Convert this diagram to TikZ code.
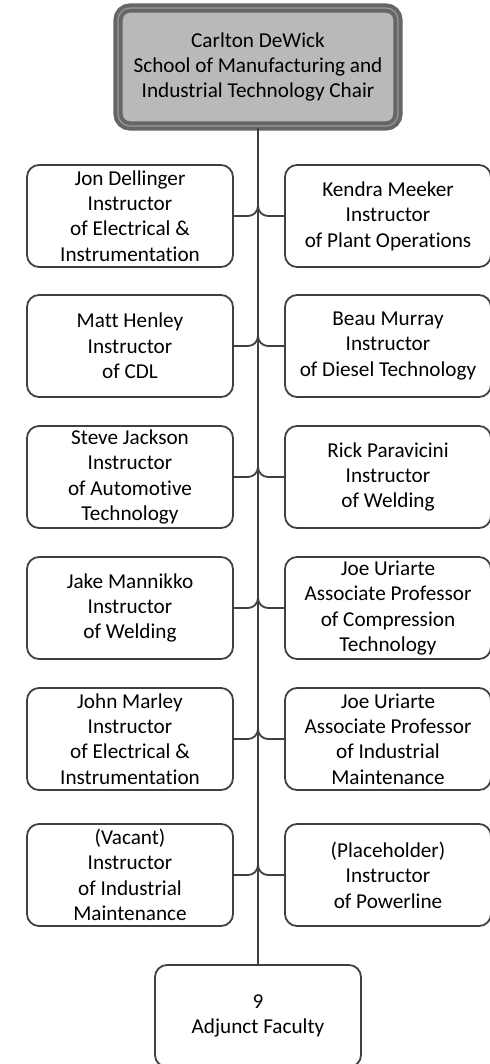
\documentclass[tikz,border=0pt]{standalone}
\usepackage{fontspec}
\setmainfont[Ligatures=NoCommon]{Carlito}
\usepackage{tikz}
\usetikzlibrary{positioning}
\usetikzlibrary{calc}
\tikzset{staffbox/.style = {draw=black!75, line width=0.9pt, rounded corners=6pt,
                            minimum width=103pt, minimum height=51pt,
                            align=center, inner sep=1pt,
                            font=\fontsize{10.6}{12.7}\selectfont},
         chairbox/.style = {staffbox, fill=gray!55, draw=black!60, line width=2pt,
                            double=gray!80, double distance=0.6pt,
                            minimum width=140pt, minimum height=59pt},
         link/.style = {draw=black!75, line width=0.9pt, rounded corners=5pt}}

\begin{document}
\begin{tikzpicture}[x=0.5pt, y=-0.5pt]
    \useasboundingbox (0, 0) rectangle (490, 1064);

    \node [chairbox] (chair) at (258, 67)
      {Carlton DeWick\\School of Manufacturing and\\Industrial Technology Chair};

    \node [staffbox] (l1) at (130, 216) {Jon Dellinger\\Instructor\\of Electrical \&\\Instrumentation};
    \node [staffbox] (r1) at (388, 216) {Kendra Meeker\\Instructor\\of Plant Operations};
    \node [staffbox] (l2) at (130, 346) {Matt Henley\\Instructor\\of CDL};
    \node [staffbox] (r2) at (388, 346) {Beau Murray\\Instructor\\of Diesel Technology};
    \node [staffbox] (l3) at (130, 477) {Steve Jackson\\Instructor\\of Automotive\\Technology};
    \node [staffbox] (r3) at (388, 477) {Rick Paravicini\\Instructor\\of Welding};
    \node [staffbox] (l4) at (130, 608) {Jake Mannikko\\Instructor\\of Welding};
    \node [staffbox] (r4) at (388, 608) {Joe Uriarte\\Associate Professor\\of Compression\\Technology};
    \node [staffbox] (l5) at (130, 739) {John Marley\\Instructor\\of Electrical \&\\Instrumentation};
    \node [staffbox] (r5) at (388, 739) {Joe Uriarte\\Associate Professor\\of Industrial\\Maintenance};
    \node [staffbox] (l6) at (130, 875) {(Vacant)\\Instructor\\of Industrial\\Maintenance};
    \node [staffbox] (r6) at (388, 875) {(Placeholder)\\Instructor\\of Powerline};

    \node [staffbox] (adj) at (258, 1016) {9\\Adjunct Faculty};

    % trunk
    \draw [link] (chair.south -| adj.north) -- (adj.north);

    \foreach \i in {1,...,6} {
      \draw [link] ($(adj.north |- l\i.east) + (0, -14)$) |- (l\i.east);
      \draw [link] ($(adj.north |- r\i.west) + (0, -14)$) |- (r\i.west);
    };
\end{tikzpicture}
\end{document}
